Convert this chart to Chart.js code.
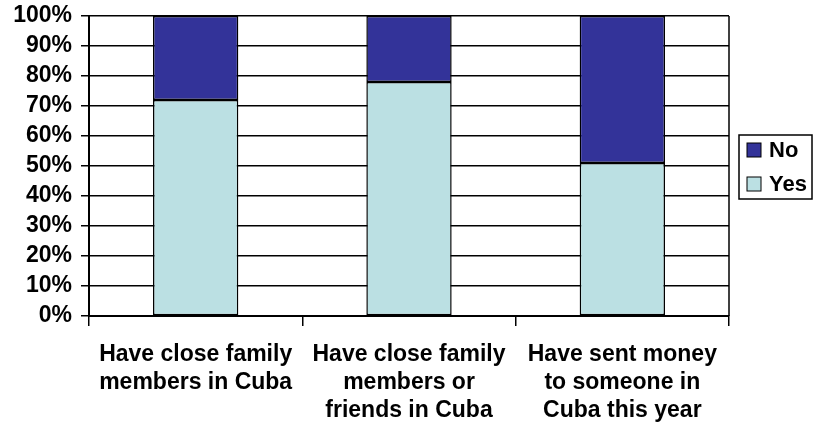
<!DOCTYPE html>
<html>
<head>
<meta charset="utf-8">
<script src="https://cdn.jsdelivr.net/npm/chart.js@4/dist/chart.umd.min.js"></script>
<style>
  html, body { margin: 0; padding: 0; background: #fff; }
  #wrap { width: 814px; height: 433px; position: relative; }
</style>
</head>
<body>
<div id="wrap"><canvas id="c" width="814" height="433"></canvas></div>
<script>
const categories = [
  ['Have close family', 'members in Cuba'],
  ['Have close family', 'members or', 'friends in Cuba'],
  ['Have sent money', 'to someone in', 'Cuba this year']
];
const yesValues = [72, 78, 51];
const noValues = [28, 22, 49];
const seriesNames = ['Yes', 'No'];
const seriesColors = ['#BBE0E3', '#333399'];

const FONT = "'Liberation Sans', Arial, sans-serif";

const frame = {
  id: 'frame',
  afterDraw(chart) {
    const ctx = chart.ctx, a = chart.chartArea;
    ctx.save();
    ctx.strokeStyle = '#000';
    ctx.lineWidth = 1.5;
    ctx.beginPath();
    ctx.moveTo(a.right, a.top);
    ctx.lineTo(a.right, a.bottom);
    ctx.stroke();

    // legend
    const lx = 739, ly = 135, lw = 73, lh = 64;
    ctx.fillStyle = '#fff';
    ctx.fillRect(lx, ly, lw, lh);
    ctx.lineWidth = 1.5;
    ctx.strokeRect(lx, ly, lw, lh);
    const ds = chart.data.datasets.slice().reverse();
    ctx.font = 'bold 22px ' + FONT;
    ctx.textBaseline = 'middle';
    ds.forEach((d, i) => {
      const cy = ly + 15 + i * 34;
      ctx.fillStyle = d.backgroundColor;
      ctx.fillRect(lx + 8, cy - 7, 14, 14);
      ctx.strokeStyle = '#000';
      ctx.lineWidth = 1;
      ctx.strokeRect(lx + 8, cy - 7, 14, 14);
      ctx.fillStyle = '#000';
      ctx.fillText(d.label, lx + 30, cy + 1);
    });
    ctx.restore();
  }
};

new Chart(document.getElementById('c'), {
  type: 'bar',
  data: {
    labels: categories,
    datasets: [
      { label: seriesNames[0], data: yesValues, backgroundColor: seriesColors[0], borderColor: '#000', borderWidth: 1.5, borderSkipped: false },
      { label: seriesNames[1], data: noValues, backgroundColor: seriesColors[1], borderColor: '#000', borderWidth: 1.5, borderSkipped: false }
    ]
  },
  options: {
    responsive: false,
    animation: false,
    layout: { padding: { left: 0, right: 85, top: 14, bottom: 0 } },
    datasets: { bar: { barPercentage: 0.8, categoryPercentage: 0.5 } },
    plugins: { legend: { display: false }, tooltip: { enabled: false } },
    scales: {
      x: {
        stacked: true,
        grid: { offset: true, drawOnChartArea: false, color: '#000', lineWidth: 1.5, tickLength: 10 },
        border: { display: true, color: '#000', width: 2 },
        ticks: { color: '#000', font: { family: FONT, size: 23, weight: 'bold', lineHeight: 1.22 }, padding: 15, maxRotation: 0, autoSkip: false },
        afterFit(s) { s.height = 117; }
      },
      y: {
        stacked: true,
        min: 0, max: 100,
        ticks: { stepSize: 10, autoSkip: false, color: '#000', font: { family: FONT, size: 23, weight: 'bold', lineHeight: 0.6 }, padding: 9, callback: v => v + '%' },
        grid: { color: '#000', lineWidth: 1.5, tickLength: 8 },
        border: { display: true, color: '#000', width: 2 },
        afterFit(s) { s.width = 89; }
      }
    }
  },
  plugins: [frame]
});
</script>
</body>
</html>
